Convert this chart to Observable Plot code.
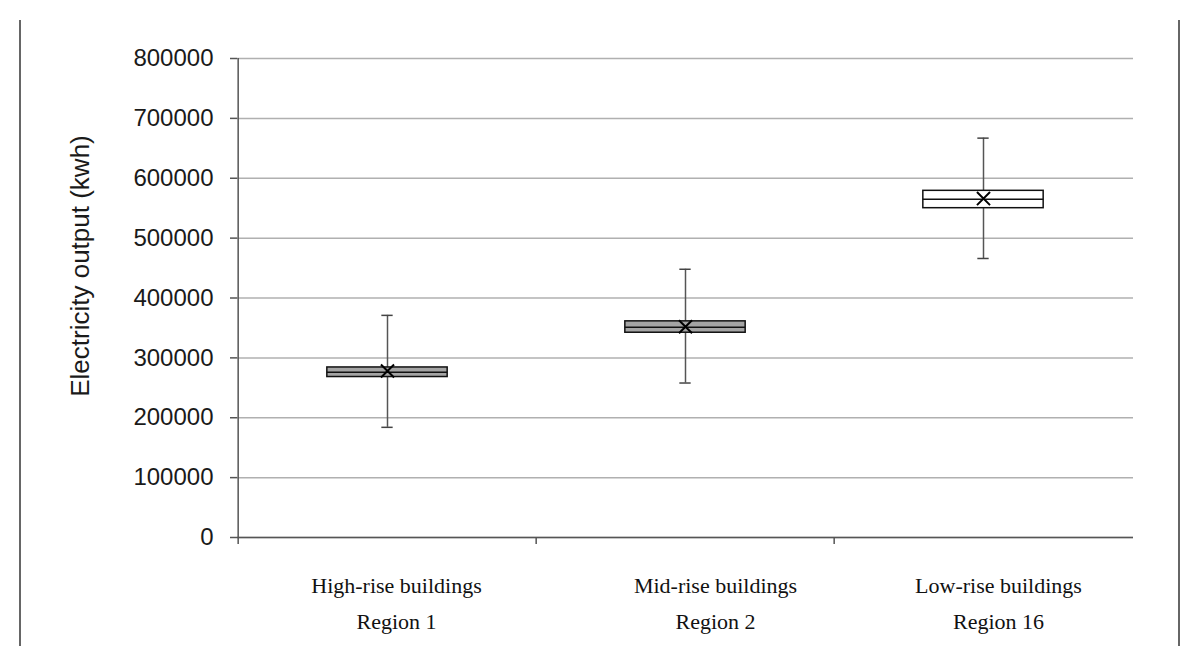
<!DOCTYPE html>
<html><head><meta charset="utf-8">
<script src="https://cdn.jsdelivr.net/npm/d3@7"></script>
<script src="https://cdn.jsdelivr.net/npm/@observablehq/plot@0.6"></script>
<style>
body{margin:0;background:#fff}
#wrap{position:relative;width:1200px;height:666px;overflow:hidden}
#wrap svg{position:absolute;left:0;top:0}
.edge{position:absolute;top:20px;height:626px;width:2px;background:#666}
</style></head><body>
<div id="wrap"><div class="edge" style="left:19px"></div><div class="edge" style="left:1178px"></div></div>
<script>
// ---- data ----
const buildingTypes = ["High-rise buildings", "Mid-rise buildings", "Low-rise buildings"];
const regions = ["Region 1", "Region 2", "Region 16"];
const whiskerLow  = [184000, 258000, 466000];
const boxLow      = [268000, 342000, 550000];
const medians     = [276000, 351000, 565000];
const boxHigh     = [284000, 361000, 579000];
const whiskerHigh = [371000, 448000, 667000];
const means       = [278000, 352000, 566000];
const yTicks = [0, 100000, 200000, 300000, 400000, 500000, 600000, 700000, 800000];
const yLabel = "Electricity output (kwh)";

// ---- styles ----
const boxFills = ["#a4a4a4", "#a4a4a4", "#ffffff"];
const labelShift = [9, 30, 15];
const W = 1200, H = 666, mL = 237, mR = 67, mT = 58, mB = 129;
const bw = (W - mL - mR) / buildingTypes.length;

const rows = buildingTypes.map((t, i) => ({
  type: t, region: regions[i], min: whiskerLow[i], q1: boxLow[i], med: medians[i],
  q3: boxHigh[i], max: whiskerHigh[i], mean: means[i], fill: boxFills[i]
}));

const boxInset = (bw - 121) / 2;
const capInset = (bw - 12) / 2;

const labelMarks = rows.flatMap((d, i) => [
  Plot.text([d], {x: "type", frameAnchor: "bottom", text: "type", dy: 55, dx: labelShift[i],
    fontFamily: "Liberation Serif", fontSize: 22, fill: "#111"}),
  Plot.text([d], {x: "type", frameAnchor: "bottom", text: "region", dy: 91, dx: labelShift[i],
    fontFamily: "Liberation Serif", fontSize: 22, fill: "#111"})
]);

const chart = Plot.plot({
  width: W, height: H,
  marginLeft: mL, marginRight: mR, marginTop: mT, marginBottom: mB,
  style: {fontFamily: "Liberation Sans, Arial, sans-serif", fontSize: "24px", color: "#1a1a1a", background: "transparent"},
  x: {domain: buildingTypes, padding: 0, axis: null},
  y: {domain: [0, 800000], axis: null},
  color: {type: "identity"},
  marks: [
    Plot.gridY(yTicks, {stroke: "#b0b0b0", strokeOpacity: 1, strokeWidth: 1.5}),
    Plot.axisY(yTicks, {tickSize: 7, tickPadding: 17, tickFormat: d3.format("d"), stroke: "#555", strokeWidth: 1.5, fill: "#1a1a1a", fontSize: 24, label: null}),
    Plot.ruleX(buildingTypes.slice(0, 1), {x: d => d, dx: -bw / 2, y1: 0, y2: 800000, stroke: "#555", strokeWidth: 1.5}),
    Plot.ruleY([0], {stroke: "#555", strokeWidth: 1.5}),
    Plot.ruleX(buildingTypes, {x: d => d, dx: -bw / 2, y1: 0, y2: 0, insetBottom: -7, stroke: "#555", strokeWidth: 1.5}),
    Plot.ruleX(rows, {x: "type", y1: "min", y2: "max", stroke: "#555", strokeWidth: 1.5}),
    Plot.tickY(rows, {x: "type", y: "min", insetLeft: capInset, insetRight: capInset, stroke: "#444", strokeWidth: 1.5}),
    Plot.tickY(rows, {x: "type", y: "max", insetLeft: capInset, insetRight: capInset, stroke: "#444", strokeWidth: 1.5}),
    Plot.barY(rows, {x: "type", y1: "q1", y2: "q3", fill: "fill", stroke: "#111", strokeWidth: 1.5, insetLeft: boxInset, insetRight: boxInset}),
    Plot.tickY(rows, {x: "type", y: "med", insetLeft: boxInset, insetRight: boxInset, stroke: "#111", strokeWidth: 1.5}),
    Plot.dot(rows, {x: "type", y: "mean", symbol: "times", r: 6, stroke: "#000", strokeWidth: 2}),
    Plot.text([yLabel], {frameAnchor: "left", textAnchor: "middle", text: d => d, rotate: -90, dx: -157, dy: -32,
      fontFamily: "Liberation Sans", fontSize: 26, fill: "#1a1a1a"}),
    ...labelMarks
  ]
});
document.getElementById("wrap").appendChild(chart);
</script>
</body></html>
